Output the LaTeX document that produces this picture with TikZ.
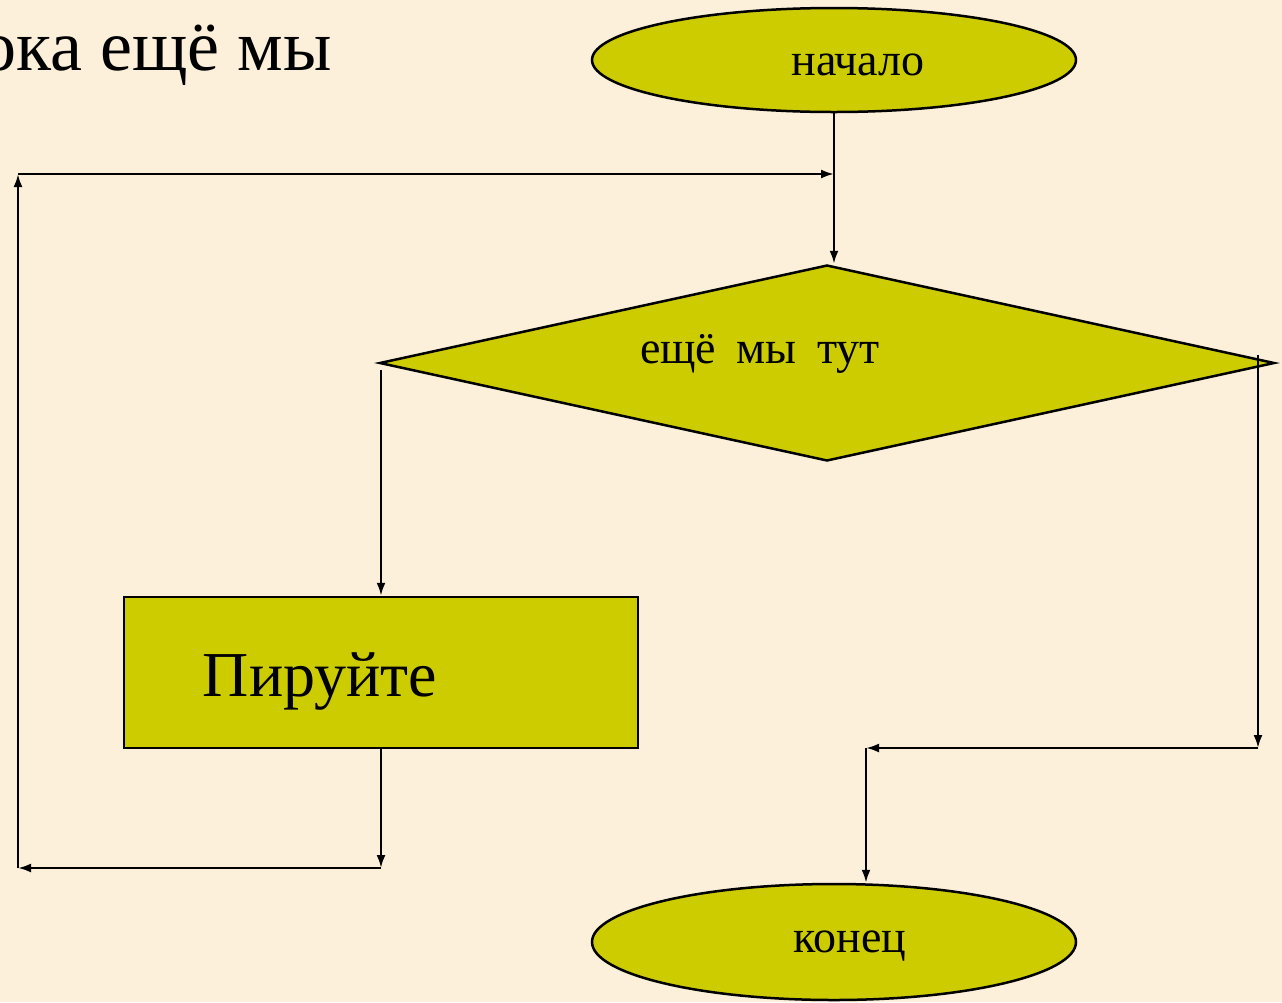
\documentclass[tikz,border=0pt]{standalone}
\usepackage{fontspec}
\setmainfont{Liberation Serif}
\usetikzlibrary{shapes.geometric,arrows.meta}
\definecolor{bgcream}{RGB}{252,240,218}
\definecolor{olive}{RGB}{204,204,0}
\tikzset{
  startend/.style={ellipse,draw=black,fill=olive,line width=2.5pt,minimum width=484pt,minimum height=104pt,inner sep=0pt},
  decision/.style={diamond,draw=black,fill=olive,line width=2.5pt,minimum width=895pt,minimum height=196pt,inner sep=0pt},
  process/.style={rectangle,draw=black,fill=olive,line width=2.5pt,minimum width=514pt,minimum height=151pt,inner sep=0pt},
  mid/.style={font=\fontsize{46}{50}\selectfont},
  big/.style={font=\fontsize{64}{70}\selectfont},
  arr/.style={line width=2.3pt,-{Latex[length=13pt,width=9pt]}}
}
\begin{document}
\begin{tikzpicture}[x=1pt,y=-1pt]
\clip (0,0) rectangle (1282,1002);
\fill[bgcream] (0,0) rectangle (1282,1002);
\node[anchor=base east,font=\fontsize{72}{80}\selectfont,inner sep=0pt] (title) at (332,70) {ока ещё мы};
\node[startend,label={[mid,xshift=24pt,yshift=-5pt]center:начало}] (start) at (834,60) {};
\node[decision,label={[mid,xshift=-67pt,yshift=9pt]center:{ещё\hspace{9pt} мы\hspace{9pt} тут}}] (dia) at (827,363) {};
\node[process,label={[big,xshift=-61pt,yshift=-9pt]center:Пируйте}] (pir) at (381,672.5) {};
\node[startend,minimum height=116pt,label={[mid,xshift=16pt,yshift=-4pt]center:конец}] (end) at (834,942) {};
\coordinate (j1) at (834,174);
\coordinate (lc) at (18,174);
\coordinate (lb) at (18,868);
\coordinate (pb) at (381,868);
\coordinate (lt) at (381,370);
\coordinate (rt) at (1258,355);
\coordinate (rb) at (1258,748);
\coordinate (rj) at (866,748);
% main flow
\draw[arr] (start.south) -- (start.south |- dia.north);
\draw[arr] (lt) -- (pir.north);
\draw[arr] (pir.south) -- (pb);
\draw[arr] (pb) -- (lb);
\draw[arr] (lb) -- (lc);
\draw[arr] (lc) -- (j1);
\draw[arr] (rt) -- (rb);
\draw[arr] (rb) -- (rj);
\draw[arr] (rj) -- (rj |- end.north);
\end{tikzpicture}
\end{document}
